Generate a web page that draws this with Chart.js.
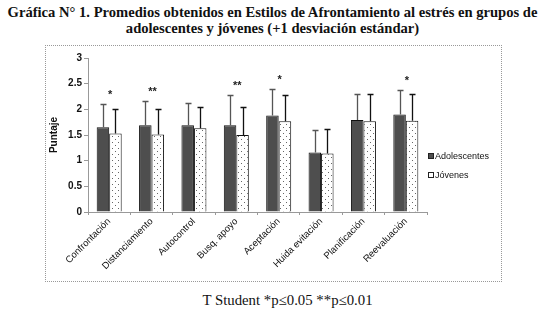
<!DOCTYPE html>
<html><head><meta charset="utf-8">
<script src="https://cdn.jsdelivr.net/npm/chart.js@4"></script>
<style>
html,body{margin:0;padding:0;background:#fff;width:545px;height:322px;overflow:hidden;}
#title{position:absolute;left:0;top:4px;width:545px;text-align:center;font:bold 14.6px "Liberation Serif","Times New Roman",serif;line-height:16px;color:#111;}
#frame{position:absolute;left:45px;top:45px;width:455px;height:235px;border:1px dotted #999;}
#wrap{position:absolute;left:45px;top:45px;width:457px;height:237px;}
#foot{position:absolute;left:30px;top:292px;width:515px;text-align:center;font:14.8px "Liberation Serif","Times New Roman",serif;color:#111;}
</style></head>
<body>
<div id="title">Gráfica N° 1. Promedios obtenidos en Estilos de Afrontamiento al estrés en grupos de<br>adolescentes y jóvenes (+1 desviación estándar)</div>
<div id="frame"></div>
<div id="wrap"><canvas id="c" width="457" height="237"></canvas></div>
<div id="foot">T Student *p≤0.05 **p≤0.01</div>
<script>
const categories = ['Confrontación','Distanciamiento','Autocontrol','Busq. apoyo','Aceptación','Huida evitación','Planificación','Reevaluación'];
const adolescentes = [1.65,1.69,1.69,1.69,1.88,1.16,1.79,1.90];
const adolescentesSd = [0.46,0.47,0.44,0.59,0.51,0.44,0.51,0.47];
const jovenes = [1.53,1.51,1.63,1.50,1.77,1.14,1.77,1.78];
const jovenesSd = [0.47,0.49,0.41,0.54,0.51,0.47,0.53,0.52];
const significance = ['*','**','','**','*','','','*'];
const yTicks = [0,0.5,1,1.5,2,2.5,3];

function makePattern(){
  const p=document.createElement('canvas'); p.width=6; p.height=6;
  const g=p.getContext('2d');
  g.fillStyle='#fff'; g.fillRect(0,0,6,6);
  g.fillStyle='#666';
  g.fillRect(1,1,1,1); g.fillRect(4,4,1,1);
  return g.createPattern(p,'repeat');
}
const dotPattern = makePattern();
const DARK = '#4e4e4e';

const errorBars = {
  id:'errorBars',
  afterDatasetsDraw(chart){
    const ctx=chart.ctx, ys=chart.scales.y;
    chart.data.datasets.forEach((ds,i)=>{
      const meta=chart.getDatasetMeta(i);
      meta.data.forEach((bar,j)=>{
        const top=Math.round(ys.getPixelForValue(ds.data[j]+ds.sd[j]))+0.5;
        const x=Math.round(bar.x)+0.5;
        ctx.save();
        ctx.strokeStyle=ds.errColor; ctx.lineWidth=1.3;
        ctx.beginPath();
        ctx.moveTo(x,bar.y); ctx.lineTo(x,top);
        ctx.moveTo(x-3,top); ctx.lineTo(x+3,top);
        ctx.stroke();
        ctx.restore();
      });
    });
  }
};

const extras = {
  id:'extras',
  afterDraw(chart){
    const ctx=chart.ctx, xs=chart.scales.x, ys=chart.scales.y, area=chart.chartArea;
    ctx.save();
    ctx.fillStyle='#222';
    ctx.font='bold 11px "Liberation Sans", Arial, sans-serif';
    ctx.textAlign='center'; ctx.textBaseline='middle';
    significance.forEach((s,j)=>{
      if(!s) return;
      const topVal=Math.max(adolescentes[j]+adolescentesSd[j], jovenes[j]+jovenesSd[j]);
      const y=ys.getPixelForValue(topVal)-9;
      ctx.fillText(s, xs.getPixelForValue(j)+1, y);
    });
    const items=[{t:'Adolescentes',f:DARK},{t:'Jóvenes',f:'#fff'}];
    ctx.font='9px "Liberation Sans", Arial, sans-serif';
    ctx.textAlign='left';
    items.forEach((it,k)=>{
      const bx=area.right+1.5, by=108.5+k*19;
      ctx.fillStyle=it.f; ctx.fillRect(bx,by,5,5);
      ctx.strokeStyle='#222'; ctx.lineWidth=1; ctx.strokeRect(bx,by,5,5);
      ctx.fillStyle='#111';
      ctx.fillText(it.t, bx+6.5, by+3);
    });
    ctx.restore();
  }
};

new Chart(document.getElementById('c'),{
  type:'bar',
  data:{
    labels:categories,
    datasets:[
      {label:'Adolescentes',data:adolescentes,sd:adolescentesSd,errColor:'#555',backgroundColor:DARK,borderColor:'#111',borderWidth:1,categoryPercentage:0.59,barPercentage:1.0},
      {label:'Jóvenes',data:jovenes,sd:jovenesSd,errColor:'#111',backgroundColor:dotPattern,borderColor:'#111',borderWidth:1,categoryPercentage:0.59,barPercentage:1.0}
    ]
  },
  options:{
    responsive:false,animation:false,
    layout:{padding:{top:13,right:75,left:0,bottom:0}},
    plugins:{legend:{display:false},tooltip:{enabled:false}},
    scales:{
      x:{
        grid:{display:true,drawOnChartArea:false,drawTicks:true,tickLength:3,color:'#999',offset:true},
        border:{color:'#999',width:1},
        ticks:{color:'#111',font:{family:'"Liberation Sans", Arial, sans-serif',size:9.5},maxRotation:45,minRotation:45,padding:1,autoSkip:false},
        afterFit(s){s.height=70;}
      },
      y:{
        min:0,max:3,
        afterBuildTicks(s){s.ticks=yTicks.map(v=>({value:v}));},
        grid:{display:true,drawOnChartArea:false,drawTicks:true,tickLength:4,color:'#999'},
        border:{color:'#999',width:1},
        ticks:{color:'#111',font:{family:'"Liberation Sans", Arial, sans-serif',size:10,weight:'bold'},padding:2,callback:(v)=>String(v)},
        title:{display:true,text:'Puntaje',color:'#111',font:{family:'"Liberation Sans", Arial, sans-serif',size:10,weight:'bold'},padding:{top:3,bottom:0}},
        afterFit(s){s.width=43;}
      }
    }
  },
  plugins:[errorBars,extras]
});
</script>
</body></html>
